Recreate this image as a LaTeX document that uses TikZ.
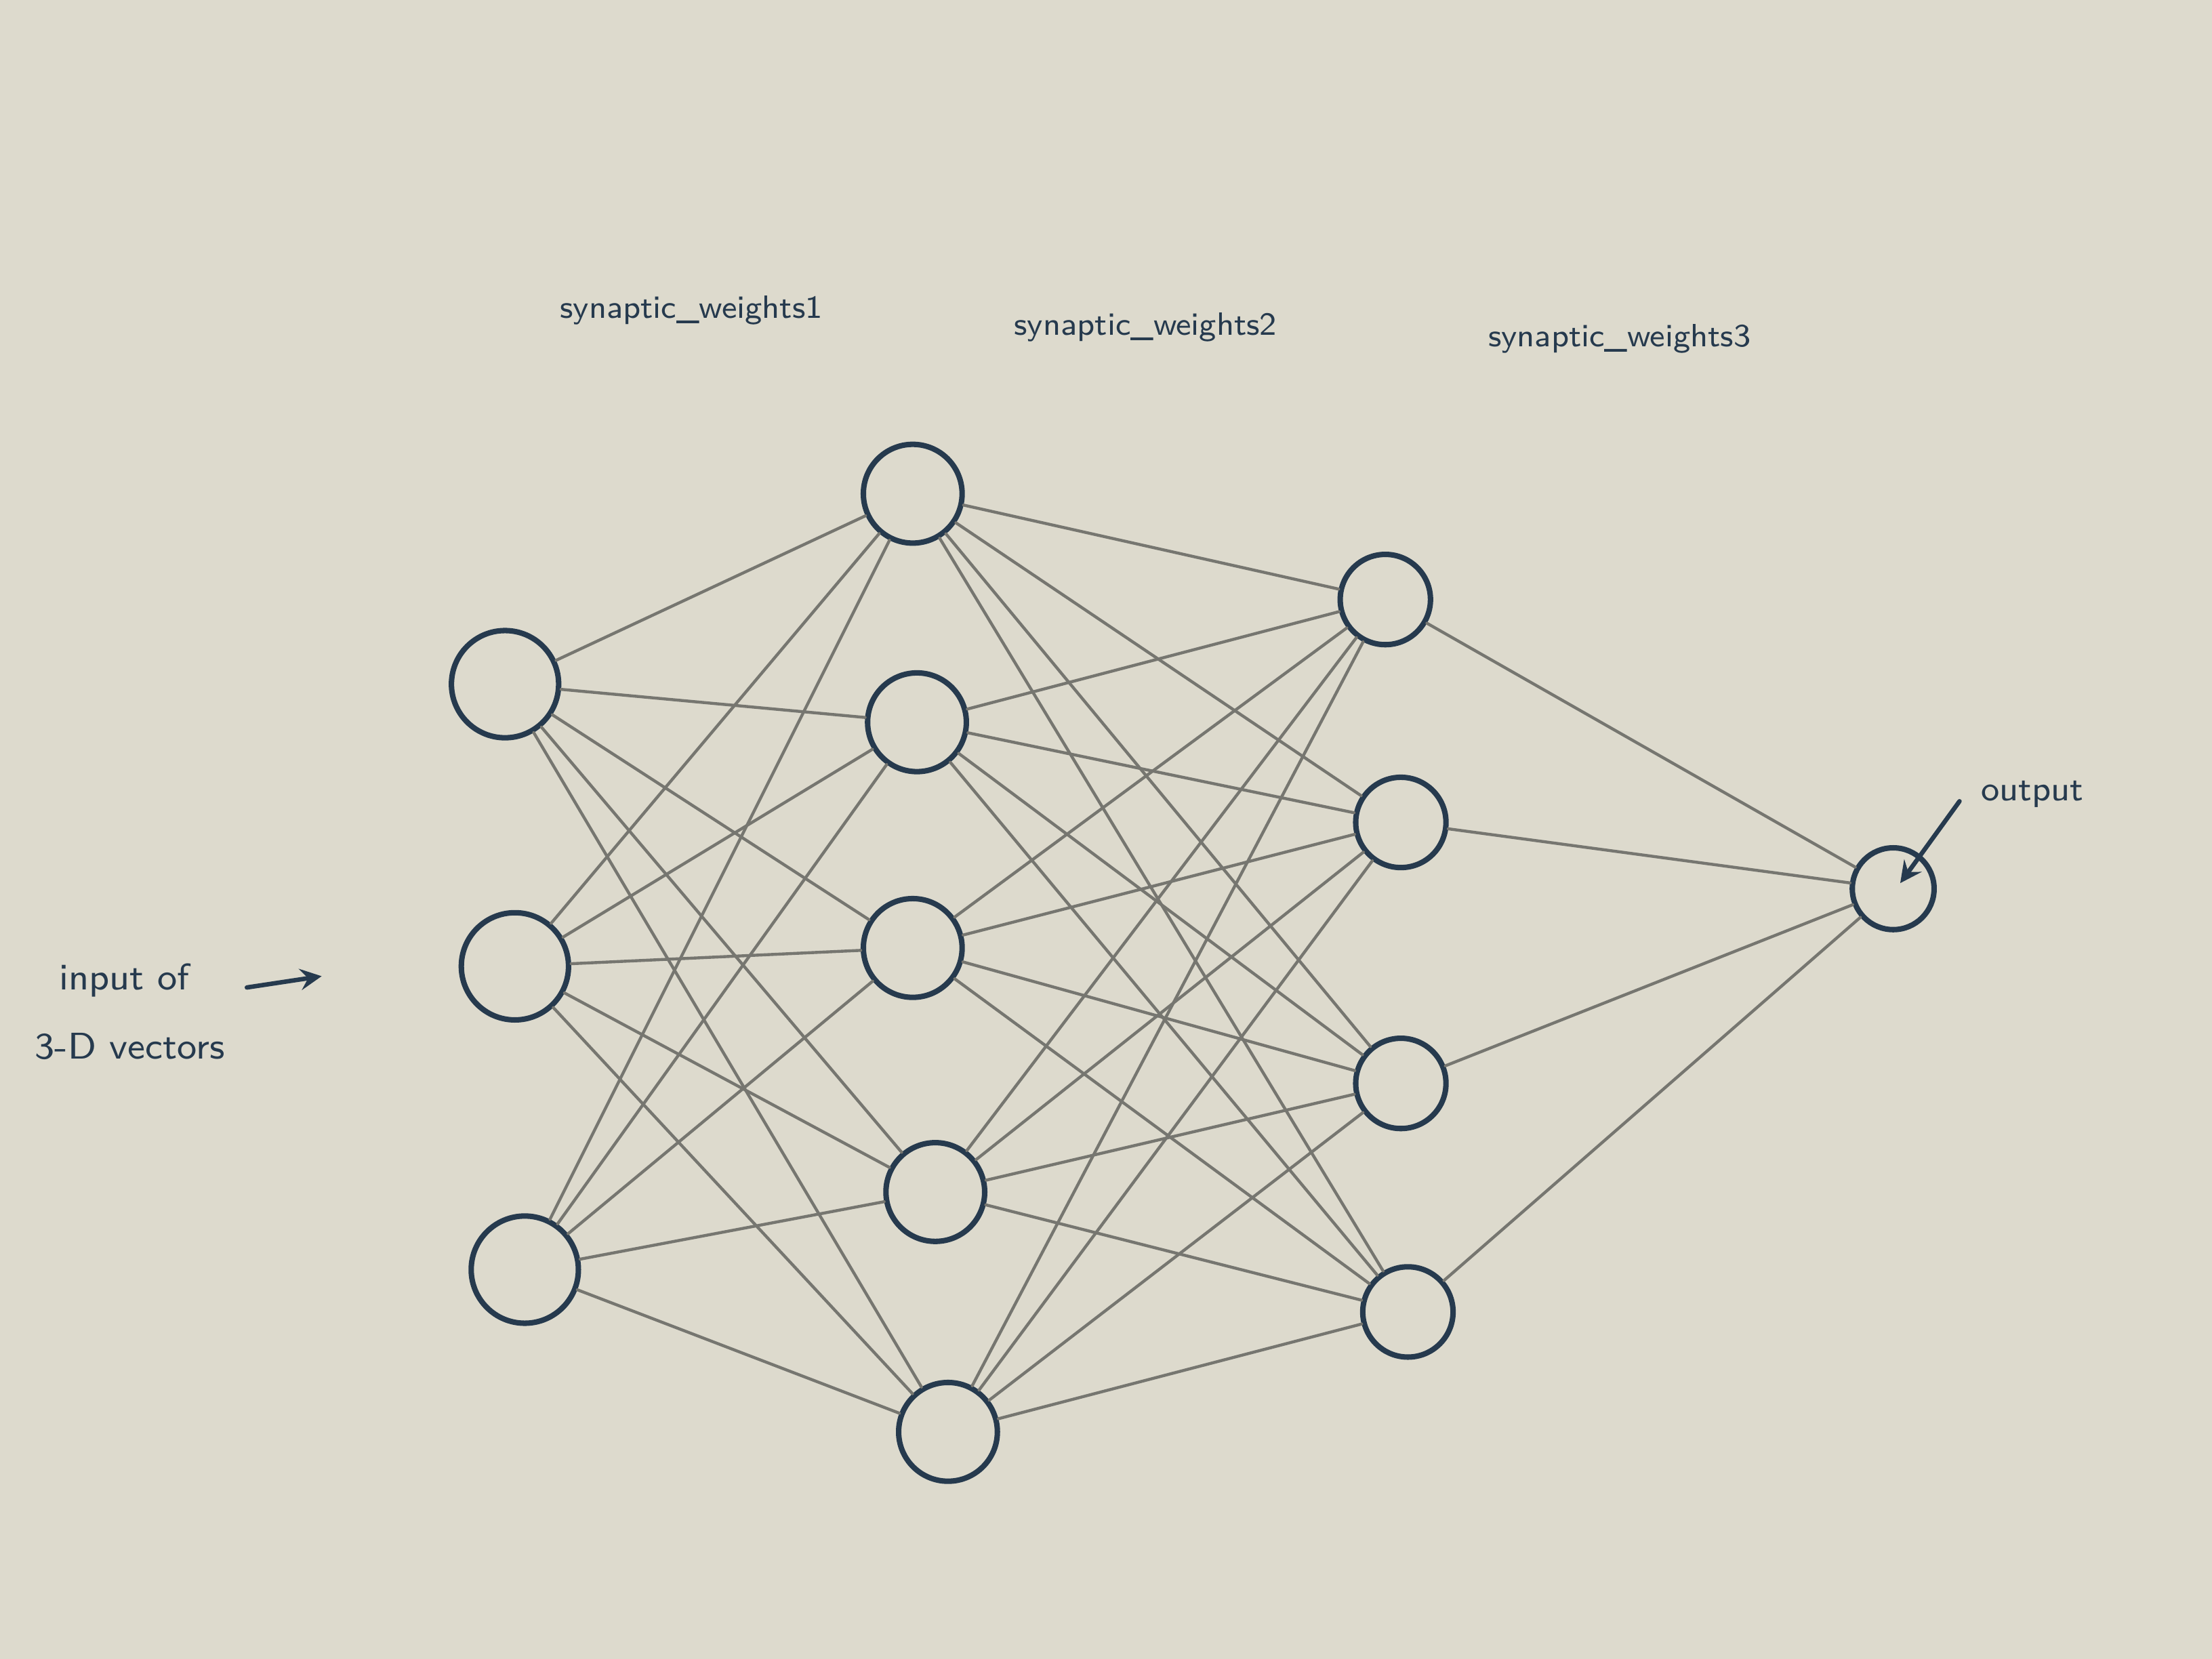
\documentclass[tikz,border=0pt]{standalone}
\usepackage{xcolor}
\definecolor{paper}{RGB}{221,218,205}
\definecolor{ink}{RGB}{38,58,78}
\definecolor{pencil}{RGB}{118,118,112}
\begin{document}
\begin{tikzpicture}[>=stealth,line join=round,line cap=round,
	neuron/.style={circle,draw=ink,line width=1.1pt,inner sep=0pt},
	wire/.style={pencil,line width=0.6pt},
	every node/.style={font=\sffamily\fontsize{6.5}{8}\selectfont,text=ink}]
	\fill[paper] (0,0) rectangle (15.68,11.76);
	\useasboundingbox (0,0) rectangle (15.68,11.76);
	% layers
	\foreach \n/\x/\y in {1/3.58/6.91,2/3.65/4.91,3/3.72/2.76}
		\node[neuron,minimum size=0.76cm] (in\n) at (\x,\y) {};
	\foreach \n/\x/\y in {1/6.47/8.26,2/6.50/6.64,3/6.47/5.04,4/6.63/3.31,5/6.72/1.61}
		\node[neuron,minimum size=0.70cm] (ha\n) at (\x,\y) {};
	\foreach \n/\x/\y in {1/9.82/7.51,2/9.93/5.93,3/9.93/4.08,4/9.98/2.46}
		\node[neuron,minimum size=0.64cm] (hb\n) at (\x,\y) {};
	\node[neuron,minimum size=0.58cm] (out) at (13.42,5.46) {};
	% connections
	\foreach \i in {1,2,3}{
		\foreach \j in {1,...,5}
			\draw[wire] (in\i) -- (ha\j);
	}
	\foreach \i in {1,...,5}{
		\foreach \j in {1,...,4}
			\draw[wire] (ha\i) -- (hb\j);
	}
	\foreach \i in {1,...,4}
		\draw[wire] (hb\i) -- (out);
	% labels
	\node (sw1) at (4.90,9.56) {synaptic\_weights1};
	\node (sw2) at (8.12,9.44) {synaptic\_weights2};
	\node (sw3) at (11.48,9.36) {synaptic\_weights3};
	\node[font=\sffamily\fontsize{7.5}{9}\selectfont] (inlbl) at (0.88,4.81) {input of};
	\node[font=\sffamily\fontsize{7.5}{9}\selectfont] (inlbl2) at (0.92,4.34) {3-D vectors};
	\coordinate (inarr) at (1.75,4.76);
	\coordinate (inarrtip) at (2.28,4.84);
	\draw[->,ink,line width=0.9pt] (inarr) -- (inarrtip);
	\node[anchor=west,font=\sffamily\fontsize{7}{8}\selectfont] (outlbl) at (13.92,6.13) {output};
	\coordinate (outarr) at (13.89,6.08);
	\coordinate (outarrtip) at (13.47,5.50);
	\draw[->,ink,line width=0.9pt] (outarr) -- (outarrtip);
\end{tikzpicture}
\end{document}
